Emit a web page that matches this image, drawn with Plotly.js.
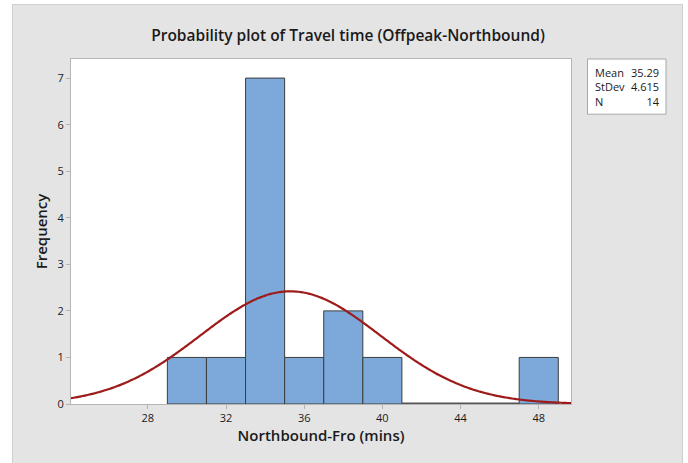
<!DOCTYPE html>
<html>
<head>
<meta charset="utf-8">
<script src="https://cdn.plot.ly/plotly-3.0.1.min.js"></script>
<style>
  html, body { margin: 0; padding: 0; background: #ffffff; width: 688px; height: 463px; overflow: hidden; }
  #frame { position: absolute; left: 12px; top: 4px; width: 671px; height: 459px;
           background: #e4e4e4; border: 1px solid #cfcfcf; border-bottom: none; box-sizing: border-box; }
  #chart { position: absolute; left: 0; top: 0; width: 670px; height: 458px; }
</style>
</head>
<body>
<div id="frame"><div id="chart"></div></div>
<script>
// ---- data ----
const binCenters = [30, 32, 34, 36, 38, 40, 42, 44, 46, 48];
const binCounts  = [1, 1, 7, 1, 2, 1, 0, 0, 0, 1];
const binWidth = 2;
const xTickVals = [28, 32, 36, 40, 44, 48];
const yTickVals = [0, 1, 2, 3, 4, 5, 6, 7];
const statLabels = ["Mean", "StDev", "N"];
const statValues = ["35.29", "4.615", "14"];
const fitMean = 35.29;
const fitStDev = 4.615;
const fitN = 14;
const xRange = [24.07, 49.65];
const yRange = [0, 7.41];

// fitted normal curve (from displayed Mean / StDev / N)
const curveX = [], curveY = [];
const steps = 200;
for (let i = 0; i <= steps; i++) {
  const x = xRange[0] + (xRange[1] - xRange[0]) * i / steps;
  const z = (x - fitMean) / fitStDev;
  curveX.push(x);
  curveY.push(fitN * binWidth * Math.exp(-0.5 * z * z) / (fitStDev * Math.sqrt(2 * Math.PI)));
}

// outline of empty bins along the baseline
const emptyX = [], emptyY = [];
binCenters.forEach((c, i) => {
  if (binCounts[i] === 0) {
    emptyX.push(c - binWidth / 2, c + binWidth / 2, null);
    emptyY.push(0, 0, null);
  }
});

const font = "'Open Sans', 'Noto Sans', sans-serif";

const traces = [
  {
    type: 'bar', x: binCenters, y: binCounts, width: binWidth,
    marker: { color: '#7ca8da', line: { color: '#3d3d3d', width: 1 } },
    hoverinfo: 'skip'
  },
  {
    type: 'scatter', mode: 'lines', x: emptyX, y: emptyY,
    line: { color: '#555555', width: 3 }, hoverinfo: 'skip'
  },
  {
    type: 'scatter', mode: 'lines', x: curveX, y: curveY,
    line: { color: '#9e1b1b', width: 2.2, shape: 'spline' }, hoverinfo: 'skip'
  }
];

const layout = {
  width: 670, height: 458,
  margin: { l: 58, r: 112, t: 54, b: 59 },
  paper_bgcolor: 'rgba(0,0,0,0)',
  plot_bgcolor: '#ffffff',
  showlegend: false,
  bargap: 0,
  font: { family: font, size: 11, color: '#1a1a1a' },
  title: {
    text: 'Probability plot of Travel time (Offpeak-Northbound)',
    font: { family: font, size: 15.5, color: '#1a1a1a', weight: 600 },
    x: 0.5, xref: 'container', xanchor: 'center', y: 0.934, yref: 'container', yanchor: 'middle'
  },
  xaxis: {
    range: xRange, tickvals: xTickVals, ticktext: xTickVals.map(String),
    ticks: 'outside', ticklen: 4, tickcolor: '#b5b5b5', tickwidth: 1,
    showline: true, linecolor: '#b5b5b5', linewidth: 1, mirror: true,
    showgrid: false, zeroline: false, layer: 'below traces',
    tickfont: { family: font, size: 11, color: '#1a1a1a' },
    title: { text: 'Northbound-Fro (mins)', font: { family: font, size: 15, color: '#1a1a1a', weight: 600 }, standoff: 6 }
  },
  yaxis: {
    range: yRange, tickvals: yTickVals, ticktext: yTickVals.map(String),
    ticks: 'outside', ticklen: 4, tickcolor: '#b5b5b5', tickwidth: 1,
    showline: true, linecolor: '#b5b5b5', linewidth: 1, mirror: true,
    showgrid: false, zeroline: false, layer: 'below traces',
    tickfont: { family: font, size: 11, color: '#1a1a1a' },
    title: { text: 'Frequency', font: { family: font, size: 15, color: '#1a1a1a', weight: 600 }, standoff: 6 }
  },
  shapes: [
    { type: 'rect', xref: 'paper', yref: 'paper', x0: 1.033, x1: 1.19, y0: 0.84, y1: 1.0,
      fillcolor: '#ffffff', line: { color: '#a8a8a8', width: 1 } }
  ],
  annotations: [
    { xref: 'paper', yref: 'paper', x: 1.044, y: 0.988, xanchor: 'left', yanchor: 'top', align: 'left',
      text: statLabels.join('<br>'), showarrow: false, font: { family: font, size: 11, color: '#1a1a1a' } },
    { xref: 'paper', yref: 'paper', x: 1.181, y: 0.988, xanchor: 'right', yanchor: 'top', align: 'right',
      text: statValues.join('<br>'), showarrow: false, font: { family: font, size: 11, color: '#1a1a1a' } }
  ]
};

Plotly.newPlot('chart', traces, layout, { displayModeBar: false, staticPlot: true });
</script>
</body>
</html>
